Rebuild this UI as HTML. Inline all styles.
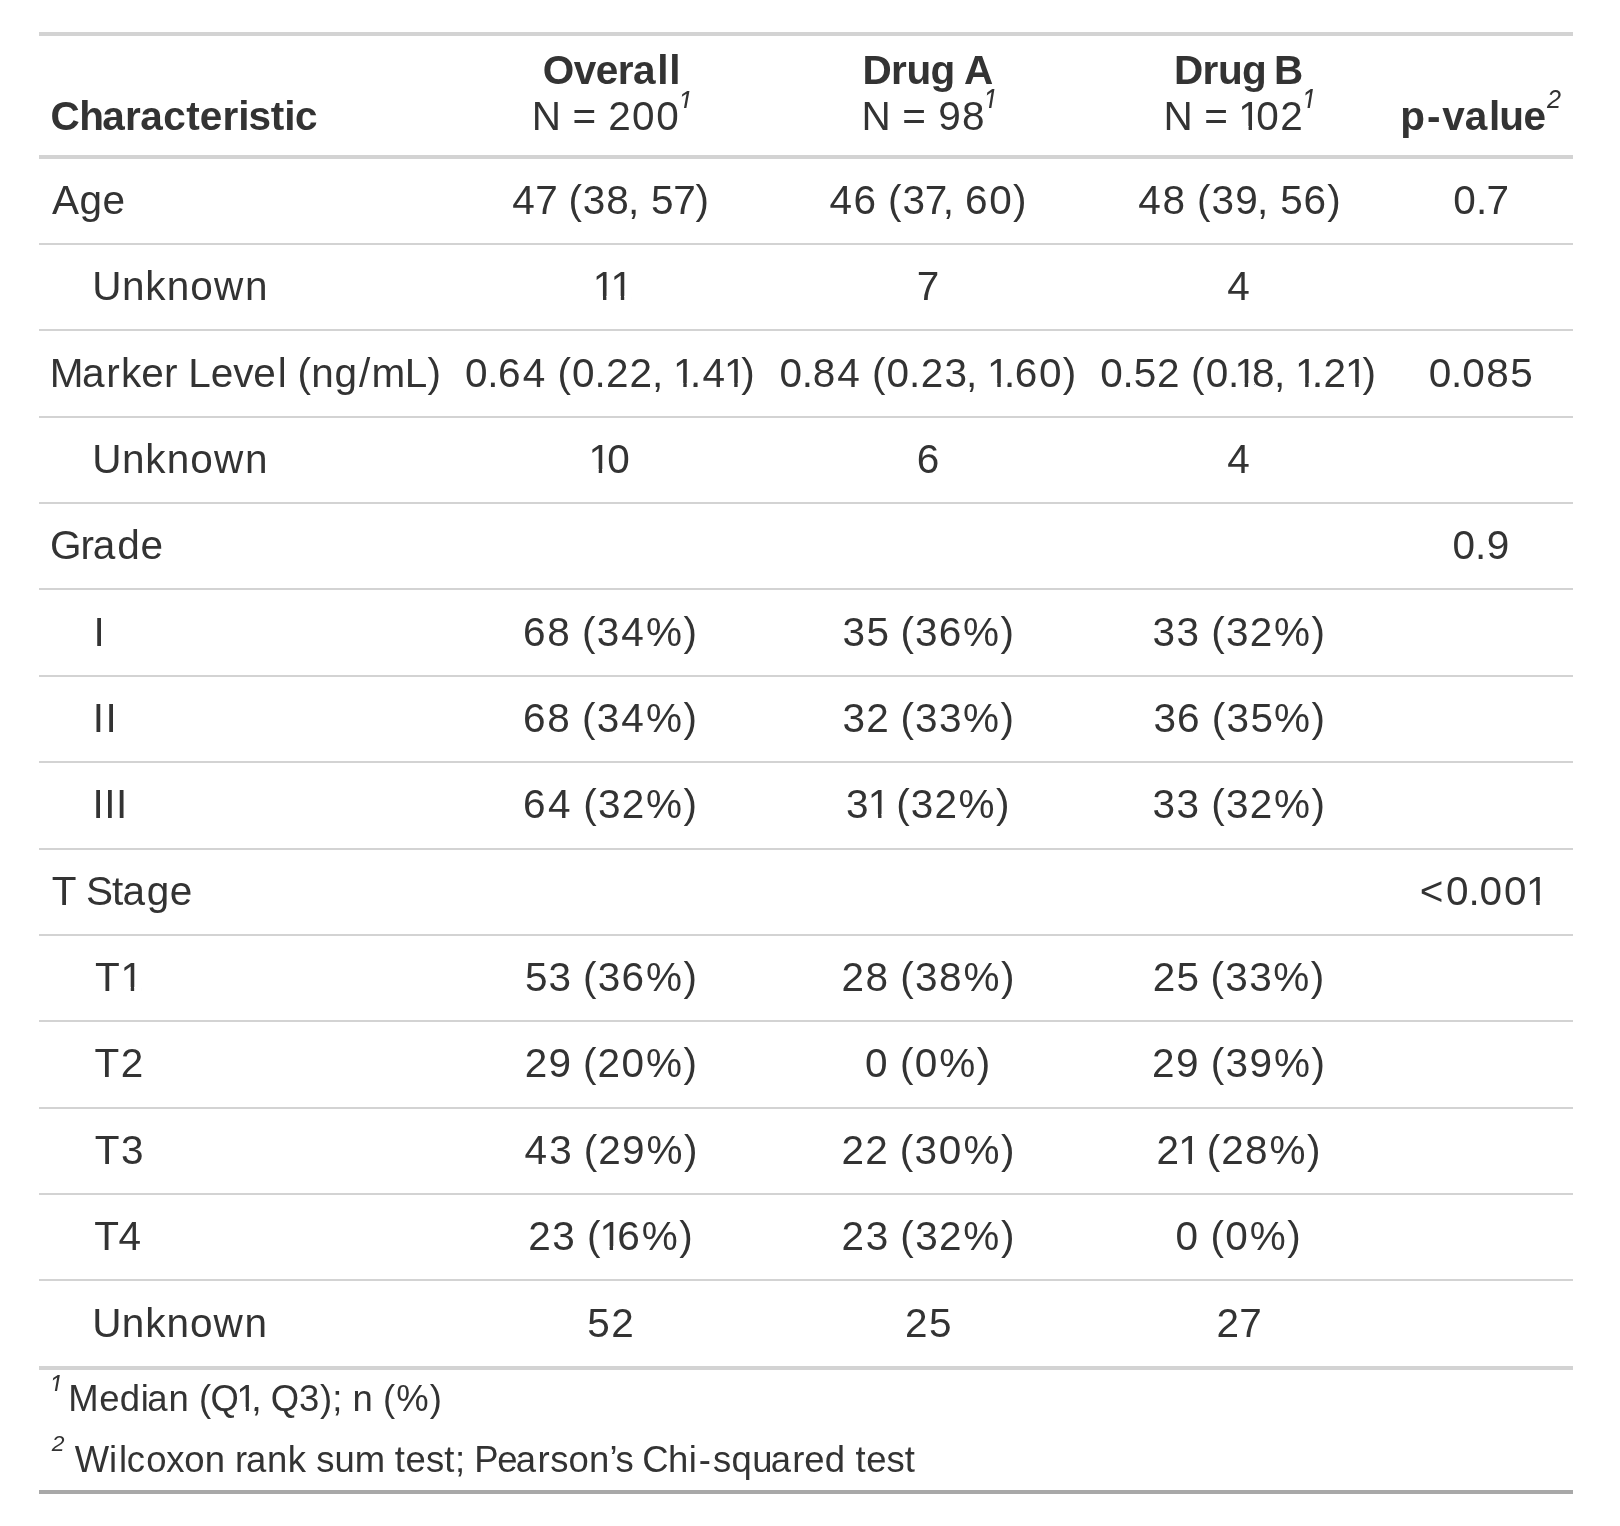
<!DOCTYPE html>
<html lang="en"><head><meta charset="utf-8"><title>Table</title>
<style>
html,body{margin:0;padding:0;background:#fff;}
body{width:1620px;height:1526px;overflow:hidden;}
svg{display:block;will-change:transform;}
text{fill:#333333;font-family:"Liberation Sans",Arial,sans-serif;}
.b{font-weight:bold;}
.i{font-style:italic;}
</style></head><body>
<svg width="1620" height="1526" viewBox="0 0 1620 1526">
<defs><clipPath id="ft0"><rect x="-60" y="-100" width="120" height="97.30"/></clipPath><clipPath id="ft1"><rect x="-60" y="-100" width="120" height="97.30"/></clipPath><clipPath id="ft2"><rect x="-60" y="-100" width="120" height="97.30"/></clipPath><clipPath id="ft4"><rect x="-60" y="-100" width="120" height="97.50"/></clipPath><clipPath id="fc0"><rect x="1103.41" y="49.00" width="298.40" height="77.00"/><rect x="1103.41" y="131.00" width="298.40" height="40.50"/><rect x="1103.41" y="126.00" width="137.19" height="1.00"/><rect x="1248.58" y="126.00" width="3.40" height="1.00"/><rect x="1259.26" y="126.00" width="142.54" height="1.00"/><rect x="1103.41" y="127.00" width="137.19" height="1.00"/><rect x="1248.58" y="127.00" width="3.40" height="1.00"/><rect x="1259.69" y="127.00" width="142.11" height="1.00"/><rect x="1103.41" y="128.00" width="137.19" height="1.00"/><rect x="1248.58" y="128.00" width="3.40" height="1.00"/><rect x="1259.69" y="128.00" width="142.11" height="1.00"/><rect x="1103.41" y="129.00" width="137.19" height="1.00"/><rect x="1248.58" y="129.00" width="3.40" height="1.00"/><rect x="1259.69" y="129.00" width="142.11" height="1.00"/><rect x="1103.41" y="130.00" width="137.19" height="1.00"/><rect x="1248.58" y="130.00" width="3.40" height="1.00"/><rect x="1259.69" y="130.00" width="142.11" height="1.00"/></clipPath><clipPath id="fc1"><rect x="532.71" y="219.00" width="199.34" height="77.00"/><rect x="532.71" y="301.00" width="199.34" height="40.50"/><rect x="532.71" y="296.00" width="62.28" height="1.00"/><rect x="602.98" y="296.00" width="3.40" height="1.00"/><rect x="620.82" y="296.00" width="3.40" height="1.00"/><rect x="631.92" y="296.00" width="100.13" height="1.00"/><rect x="532.71" y="297.00" width="62.28" height="1.00"/><rect x="602.98" y="297.00" width="3.40" height="1.00"/><rect x="620.82" y="297.00" width="3.40" height="1.00"/><rect x="631.92" y="297.00" width="100.13" height="1.00"/><rect x="532.71" y="298.00" width="62.28" height="1.00"/><rect x="602.98" y="298.00" width="3.40" height="1.00"/><rect x="620.82" y="298.00" width="3.40" height="1.00"/><rect x="631.92" y="298.00" width="100.13" height="1.00"/><rect x="532.71" y="299.00" width="62.28" height="1.00"/><rect x="602.98" y="299.00" width="3.40" height="1.00"/><rect x="620.82" y="299.00" width="3.40" height="1.00"/><rect x="631.92" y="299.00" width="100.13" height="1.00"/><rect x="532.71" y="300.00" width="62.28" height="1.00"/><rect x="602.98" y="300.00" width="3.40" height="1.00"/><rect x="620.82" y="300.00" width="3.40" height="1.00"/><rect x="631.92" y="300.00" width="100.13" height="1.00"/></clipPath><clipPath id="fc2"><rect x="404.94" y="306.00" width="457.86" height="77.00"/><rect x="404.94" y="388.00" width="457.86" height="40.50"/><rect x="404.94" y="383.00" width="270.39" height="1.00"/><rect x="683.32" y="383.00" width="3.40" height="1.00"/><rect x="693.31" y="383.00" width="32.92" height="1.00"/><rect x="734.22" y="383.00" width="3.40" height="1.00"/><rect x="745.33" y="383.00" width="117.47" height="1.00"/><rect x="404.94" y="384.00" width="270.39" height="1.00"/><rect x="683.32" y="384.00" width="3.40" height="1.00"/><rect x="693.31" y="384.00" width="32.92" height="1.00"/><rect x="734.22" y="384.00" width="3.40" height="1.00"/><rect x="745.33" y="384.00" width="117.47" height="1.00"/><rect x="404.94" y="385.00" width="270.39" height="1.00"/><rect x="683.32" y="385.00" width="3.40" height="1.00"/><rect x="693.31" y="385.00" width="32.92" height="1.00"/><rect x="734.22" y="385.00" width="3.40" height="1.00"/><rect x="745.33" y="385.00" width="117.47" height="1.00"/><rect x="404.94" y="386.00" width="270.39" height="1.00"/><rect x="683.32" y="386.00" width="3.40" height="1.00"/><rect x="693.31" y="386.00" width="32.92" height="1.00"/><rect x="734.22" y="386.00" width="3.40" height="1.00"/><rect x="745.33" y="386.00" width="117.47" height="1.00"/><rect x="404.94" y="387.00" width="270.39" height="1.00"/><rect x="683.32" y="387.00" width="3.40" height="1.00"/><rect x="693.31" y="387.00" width="32.92" height="1.00"/><rect x="734.22" y="387.00" width="3.40" height="1.00"/><rect x="745.33" y="387.00" width="117.47" height="1.00"/></clipPath><clipPath id="fc3"><rect x="719.44" y="306.00" width="464.76" height="77.00"/><rect x="719.44" y="388.00" width="464.76" height="40.50"/><rect x="719.44" y="383.00" width="269.89" height="1.00"/><rect x="997.32" y="383.00" width="3.40" height="1.00"/><rect x="1007.30" y="383.00" width="176.90" height="1.00"/><rect x="719.44" y="384.00" width="269.89" height="1.00"/><rect x="997.32" y="384.00" width="3.40" height="1.00"/><rect x="1007.30" y="384.00" width="176.90" height="1.00"/><rect x="719.44" y="385.00" width="269.89" height="1.00"/><rect x="997.32" y="385.00" width="3.40" height="1.00"/><rect x="1007.30" y="385.00" width="176.90" height="1.00"/><rect x="719.44" y="386.00" width="269.89" height="1.00"/><rect x="997.32" y="386.00" width="3.40" height="1.00"/><rect x="1007.30" y="386.00" width="176.90" height="1.00"/><rect x="719.44" y="387.00" width="269.89" height="1.00"/><rect x="997.32" y="387.00" width="3.40" height="1.00"/><rect x="1007.30" y="387.00" width="176.90" height="1.00"/></clipPath><clipPath id="fc4"><rect x="1040.13" y="306.00" width="443.78" height="77.00"/><rect x="1040.13" y="388.00" width="443.78" height="40.50"/><rect x="1040.13" y="383.00" width="196.55" height="1.00"/><rect x="1244.67" y="383.00" width="3.40" height="1.00"/><rect x="1254.00" y="383.00" width="43.16" height="1.00"/><rect x="1305.15" y="383.00" width="3.40" height="1.00"/><rect x="1315.13" y="383.00" width="32.23" height="1.00"/><rect x="1355.35" y="383.00" width="3.40" height="1.00"/><rect x="1366.45" y="383.00" width="117.46" height="1.00"/><rect x="1040.13" y="384.00" width="196.55" height="1.00"/><rect x="1244.67" y="384.00" width="3.40" height="1.00"/><rect x="1254.61" y="384.00" width="42.56" height="1.00"/><rect x="1305.15" y="384.00" width="3.40" height="1.00"/><rect x="1315.13" y="384.00" width="32.23" height="1.00"/><rect x="1355.35" y="384.00" width="3.40" height="1.00"/><rect x="1366.45" y="384.00" width="117.46" height="1.00"/><rect x="1040.13" y="385.00" width="196.55" height="1.00"/><rect x="1244.67" y="385.00" width="3.40" height="1.00"/><rect x="1255.42" y="385.00" width="41.75" height="1.00"/><rect x="1305.15" y="385.00" width="3.40" height="1.00"/><rect x="1315.13" y="385.00" width="32.23" height="1.00"/><rect x="1355.35" y="385.00" width="3.40" height="1.00"/><rect x="1366.45" y="385.00" width="117.46" height="1.00"/><rect x="1040.13" y="386.00" width="196.55" height="1.00"/><rect x="1244.67" y="386.00" width="3.40" height="1.00"/><rect x="1255.78" y="386.00" width="41.39" height="1.00"/><rect x="1305.15" y="386.00" width="3.40" height="1.00"/><rect x="1315.13" y="386.00" width="32.23" height="1.00"/><rect x="1355.35" y="386.00" width="3.40" height="1.00"/><rect x="1366.45" y="386.00" width="117.46" height="1.00"/><rect x="1040.13" y="387.00" width="196.55" height="1.00"/><rect x="1244.67" y="387.00" width="3.40" height="1.00"/><rect x="1255.78" y="387.00" width="41.39" height="1.00"/><rect x="1305.15" y="387.00" width="3.40" height="1.00"/><rect x="1315.13" y="387.00" width="32.23" height="1.00"/><rect x="1355.35" y="387.00" width="3.40" height="1.00"/><rect x="1366.45" y="387.00" width="117.46" height="1.00"/></clipPath><clipPath id="fc5"><rect x="528.48" y="392.00" width="200.21" height="77.00"/><rect x="528.48" y="474.00" width="200.21" height="40.50"/><rect x="528.48" y="469.00" width="62.28" height="1.00"/><rect x="598.74" y="469.00" width="3.40" height="1.00"/><rect x="609.85" y="469.00" width="118.84" height="1.00"/><rect x="528.48" y="470.00" width="62.28" height="1.00"/><rect x="598.74" y="470.00" width="3.40" height="1.00"/><rect x="609.85" y="470.00" width="118.84" height="1.00"/><rect x="528.48" y="471.00" width="62.28" height="1.00"/><rect x="598.74" y="471.00" width="3.40" height="1.00"/><rect x="609.85" y="471.00" width="118.84" height="1.00"/><rect x="528.48" y="472.00" width="62.28" height="1.00"/><rect x="598.74" y="472.00" width="3.40" height="1.00"/><rect x="609.85" y="472.00" width="118.84" height="1.00"/><rect x="528.48" y="473.00" width="62.28" height="1.00"/><rect x="598.74" y="473.00" width="3.40" height="1.00"/><rect x="609.85" y="473.00" width="118.84" height="1.00"/></clipPath><clipPath id="fc6"><rect x="786.09" y="737.00" width="331.36" height="77.00"/><rect x="786.09" y="819.00" width="331.36" height="40.50"/><rect x="786.09" y="814.00" width="83.99" height="1.00"/><rect x="878.08" y="814.00" width="3.40" height="1.00"/><rect x="889.18" y="814.00" width="228.27" height="1.00"/><rect x="786.09" y="815.00" width="83.99" height="1.00"/><rect x="878.08" y="815.00" width="3.40" height="1.00"/><rect x="889.18" y="815.00" width="228.27" height="1.00"/><rect x="786.09" y="816.00" width="83.99" height="1.00"/><rect x="878.08" y="816.00" width="3.40" height="1.00"/><rect x="889.18" y="816.00" width="228.27" height="1.00"/><rect x="786.09" y="817.00" width="83.99" height="1.00"/><rect x="878.08" y="817.00" width="3.40" height="1.00"/><rect x="889.18" y="817.00" width="228.27" height="1.00"/><rect x="786.09" y="818.00" width="83.99" height="1.00"/><rect x="878.08" y="818.00" width="3.40" height="1.00"/><rect x="889.18" y="818.00" width="228.27" height="1.00"/></clipPath><clipPath id="fc7"><rect x="1359.81" y="824.00" width="287.70" height="77.00"/><rect x="1359.81" y="906.00" width="287.70" height="40.50"/><rect x="1359.81" y="901.00" width="168.48" height="1.00"/><rect x="1536.28" y="901.00" width="3.40" height="1.00"/><rect x="1547.38" y="901.00" width="100.13" height="1.00"/><rect x="1359.81" y="902.00" width="168.48" height="1.00"/><rect x="1536.28" y="902.00" width="3.40" height="1.00"/><rect x="1547.38" y="902.00" width="100.13" height="1.00"/><rect x="1359.81" y="903.00" width="168.48" height="1.00"/><rect x="1536.28" y="903.00" width="3.40" height="1.00"/><rect x="1547.38" y="903.00" width="100.13" height="1.00"/><rect x="1359.81" y="904.00" width="168.48" height="1.00"/><rect x="1536.28" y="904.00" width="3.40" height="1.00"/><rect x="1547.38" y="904.00" width="100.13" height="1.00"/><rect x="1359.81" y="905.00" width="168.48" height="1.00"/><rect x="1536.28" y="905.00" width="3.40" height="1.00"/><rect x="1547.38" y="905.00" width="100.13" height="1.00"/></clipPath><clipPath id="fc8"><rect x="34.94" y="910.00" width="207.05" height="77.00"/><rect x="34.94" y="992.00" width="207.05" height="40.50"/><rect x="34.94" y="987.00" width="87.83" height="1.00"/><rect x="130.76" y="987.00" width="3.40" height="1.00"/><rect x="141.87" y="987.00" width="100.13" height="1.00"/><rect x="34.94" y="988.00" width="87.83" height="1.00"/><rect x="130.76" y="988.00" width="3.40" height="1.00"/><rect x="141.87" y="988.00" width="100.13" height="1.00"/><rect x="34.94" y="989.00" width="87.83" height="1.00"/><rect x="130.76" y="989.00" width="3.40" height="1.00"/><rect x="141.87" y="989.00" width="100.13" height="1.00"/><rect x="34.94" y="990.00" width="87.83" height="1.00"/><rect x="130.76" y="990.00" width="3.40" height="1.00"/><rect x="141.87" y="990.00" width="100.13" height="1.00"/><rect x="34.94" y="991.00" width="87.83" height="1.00"/><rect x="130.76" y="991.00" width="3.40" height="1.00"/><rect x="141.87" y="991.00" width="100.13" height="1.00"/></clipPath><clipPath id="fc9"><rect x="1096.46" y="1083.00" width="332.02" height="77.00"/><rect x="1096.46" y="1165.00" width="332.02" height="40.50"/><rect x="1096.46" y="1160.00" width="84.05" height="1.00"/><rect x="1188.49" y="1160.00" width="3.40" height="1.00"/><rect x="1199.60" y="1160.00" width="228.88" height="1.00"/><rect x="1096.46" y="1161.00" width="84.05" height="1.00"/><rect x="1188.49" y="1161.00" width="3.40" height="1.00"/><rect x="1199.60" y="1161.00" width="228.88" height="1.00"/><rect x="1096.46" y="1162.00" width="84.05" height="1.00"/><rect x="1188.49" y="1162.00" width="3.40" height="1.00"/><rect x="1199.60" y="1162.00" width="228.88" height="1.00"/><rect x="1096.46" y="1163.00" width="84.05" height="1.00"/><rect x="1188.49" y="1163.00" width="3.40" height="1.00"/><rect x="1199.60" y="1163.00" width="228.88" height="1.00"/><rect x="1096.46" y="1164.00" width="84.05" height="1.00"/><rect x="1188.49" y="1164.00" width="3.40" height="1.00"/><rect x="1199.60" y="1164.00" width="228.88" height="1.00"/></clipPath><clipPath id="fc10"><rect x="468.36" y="1169.00" width="332.42" height="77.00"/><rect x="468.36" y="1251.00" width="332.42" height="40.50"/><rect x="468.36" y="1246.00" width="133.30" height="1.00"/><rect x="609.64" y="1246.00" width="3.40" height="1.00"/><rect x="620.66" y="1246.00" width="180.12" height="1.00"/><rect x="468.36" y="1247.00" width="133.30" height="1.00"/><rect x="609.64" y="1247.00" width="3.40" height="1.00"/><rect x="620.75" y="1247.00" width="180.03" height="1.00"/><rect x="468.36" y="1248.00" width="133.30" height="1.00"/><rect x="609.64" y="1248.00" width="3.40" height="1.00"/><rect x="620.75" y="1248.00" width="180.03" height="1.00"/><rect x="468.36" y="1249.00" width="133.30" height="1.00"/><rect x="609.64" y="1249.00" width="3.40" height="1.00"/><rect x="620.75" y="1249.00" width="180.03" height="1.00"/><rect x="468.36" y="1250.00" width="133.30" height="1.00"/><rect x="609.64" y="1250.00" width="3.40" height="1.00"/><rect x="620.75" y="1250.00" width="180.03" height="1.00"/></clipPath><clipPath id="fc11"><rect x="8.31" y="1338.10" width="530.78" height="68.90"/><rect x="8.31" y="1412.00" width="530.78" height="36.45"/><rect x="8.31" y="1407.00" width="230.26" height="1.00"/><rect x="245.85" y="1407.00" width="3.04" height="1.00"/><rect x="254.54" y="1407.00" width="284.55" height="1.00"/><rect x="8.31" y="1408.00" width="230.26" height="1.00"/><rect x="245.85" y="1408.00" width="3.04" height="1.00"/><rect x="254.54" y="1408.00" width="284.55" height="1.00"/><rect x="8.31" y="1409.00" width="230.26" height="1.00"/><rect x="245.85" y="1409.00" width="3.04" height="1.00"/><rect x="254.54" y="1409.00" width="284.55" height="1.00"/><rect x="8.31" y="1410.00" width="230.26" height="1.00"/><rect x="245.85" y="1410.00" width="3.04" height="1.00"/><rect x="254.54" y="1410.00" width="284.55" height="1.00"/><rect x="8.31" y="1411.00" width="230.26" height="1.00"/><rect x="245.85" y="1411.00" width="3.04" height="1.00"/><rect x="254.54" y="1411.00" width="284.55" height="1.00"/></clipPath></defs>
<rect x="0" y="0" width="1620" height="1526" fill="#ffffff"/>
<rect x="39" y="32" width="1534" height="4" fill="#D3D3D3"/>
<rect x="39" y="155" width="1534" height="4" fill="#D3D3D3"/>
<rect x="39" y="243" width="1534" height="2" fill="#D3D3D3"/>
<rect x="39" y="329" width="1534" height="2" fill="#D3D3D3"/>
<rect x="39" y="416" width="1534" height="2" fill="#D3D3D3"/>
<rect x="39" y="502" width="1534" height="2" fill="#D3D3D3"/>
<rect x="39" y="588" width="1534" height="2" fill="#D3D3D3"/>
<rect x="39" y="675" width="1534" height="2" fill="#D3D3D3"/>
<rect x="39" y="761" width="1534" height="2" fill="#D3D3D3"/>
<rect x="39" y="848" width="1534" height="2" fill="#D3D3D3"/>
<rect x="39" y="934" width="1534" height="2" fill="#D3D3D3"/>
<rect x="39" y="1020" width="1534" height="2" fill="#D3D3D3"/>
<rect x="39" y="1107" width="1534" height="2" fill="#D3D3D3"/>
<rect x="39" y="1193" width="1534" height="2" fill="#D3D3D3"/>
<rect x="39" y="1279" width="1534" height="2" fill="#D3D3D3"/>
<rect x="39" y="1366" width="1534" height="4" fill="#D3D3D3"/>
<rect x="39" y="1490" width="1534" height="4" fill="#A8A8A8"/>
<text class="b" x="50.61 79.17 102.27 125.08 140.36 163.28 186.14 199.85 222.40 238.22 248.60 270.64 284.26 294.91" y="130" font-size="40.5">Characteristic</text>
<text class="b" x="542.78 573.75 595.82 617.67 632.94 657.34 669.20" y="84.0" font-size="40.5">Overall</text>
<text class="r" x="531.72 555.16 572.51 591.36 608.30 632.06 656.29" y="130.0" font-size="40.5">N = 200</text>
<text class="b" x="862.54 890.95 906.58 930.58 949.41 963.88" y="84.0" font-size="40.5">Drug A</text>
<text class="r" x="861.39 884.86 902.25 921.13 938.26 962.01" y="130.0" font-size="40.5">N = 98</text>
<text class="b" x="1173.99 1202.43 1218.08 1242.11 1260.95 1273.93" y="84.0" font-size="40.5">Drug B</text>
<text class="r" x="1163.41 1186.90 1204.35 1223.26 1238.32 1256.32 1280.30" y="130.0" font-size="40.5" clip-path="url(#fc0)">N = 102</text>
<text class="b" x="1400.16 1426.90 1442.21 1464.67 1489.05 1499.24 1523.55" y="130" font-size="40.5">p-value</text>
<text class="r" x="52.07 79.41 102.58" y="214" font-size="40.5">Age</text>
<text class="r" x="512.22 535.27 551.74 568.42 582.83 606.28 628.07 633.98 651.10 673.22 695.53" y="214" font-size="40.5">47 (38, 57)</text>
<text class="r" x="829.47 853.58 871.29 888.09 902.61 924.63 942.74 948.07 965.08 989.32 1012.99" y="214" font-size="40.5">46 (37, 60)</text>
<text class="r" x="1138.19 1162.43 1180.07 1196.93 1211.51 1235.28 1257.07 1263.03 1280.36 1303.61 1327.26" y="214" font-size="40.5">48 (39, 56)</text>
<text class="r" x="1453.33 1475.90 1486.40" y="214" font-size="40.5">0.7</text>
<text class="r" x="92.36 121.91 145.32 166.70 190.17 213.92 244.95" y="300" font-size="40.5">Unknown</text>
<text class="r" x="592.71 610.55" y="300" font-size="40.5" clip-path="url(#fc1)">11</text>
<text class="r" x="916.66" y="300" font-size="40.5">7</text>
<text class="r" x="1227.36" y="300" font-size="40.5">4</text>
<text class="r" x="49.85 82.09 106.25 121.08 141.14 164.11 172.45 188.37 210.74 233.13 253.35 277.83 280.77 297.58 311.37 334.60 359.01 371.58 404.79 427.38" y="387" font-size="40.5">Marker Level (ng/mL)</text>
<text class="r" x="464.94 487.29 498.04 522.71 540.63 557.43 572.04 594.39 606.12 629.61 652.08 658.02 673.06 690.07 702.58 723.96 741.30" y="387" font-size="40.5" clip-path="url(#fc2)">0.64 (0.22, 1.41)</text>
<text class="r" x="779.44 801.79 812.71 837.27 855.19 871.99 886.60 908.94 920.68 944.42 966.07 972.01 987.05 1004.06 1014.81 1039.04 1062.70" y="387" font-size="40.5" clip-path="url(#fc3)">0.84 (0.23, 1.60)</text>
<text class="r" x="1100.13 1122.46 1133.87 1157.01 1174.31 1191.08 1205.67 1227.99 1234.40 1252.07 1273.94 1279.88 1294.89 1311.88 1323.59 1345.08 1362.41" y="387" font-size="40.5" clip-path="url(#fc4)">0.52 (0.18, 1.21)</text>
<text class="r" x="1428.74 1451.08 1462.17 1486.17 1510.18" y="387" font-size="40.5">0.085</text>
<text class="r" x="92.36 121.91 145.32 166.70 190.17 213.92 244.95" y="473" font-size="40.5">Unknown</text>
<text class="r" x="588.48 607.19" y="473" font-size="40.5" clip-path="url(#fc5)">10</text>
<text class="r" x="916.81" y="473" font-size="40.5">6</text>
<text class="r" x="1227.36" y="473" font-size="40.5">4</text>
<text class="r" x="50.11 80.53 92.87 117.17 140.51" y="559" font-size="40.5">Grade</text>
<text class="r" x="1452.59 1475.03 1486.74" y="559" font-size="40.5">0.9</text>
<text class="r" x="93.38" y="646" font-size="40.5">I</text>
<text class="r" x="523.09 547.27 564.99 581.98 596.68 621.25 645.97 683.45" y="646" font-size="40.5">68 (34%)</text>
<text class="r" x="842.49 866.42 883.48 900.40 915.02 938.70 963.08 1000.45" y="646" font-size="40.5">35 (36%)</text>
<text class="r" x="1152.53 1176.62 1194.12 1211.15 1225.89 1249.72 1273.88 1311.41" y="646" font-size="40.5">33 (32%)</text>
<text class="r" x="92.64 105.42" y="732" font-size="40.5">II</text>
<text class="r" x="523.09 547.27 564.99 581.98 596.68 621.25 645.97 683.45" y="732" font-size="40.5">68 (34%)</text>
<text class="r" x="842.49 866.18 883.56 900.48 915.10 939.04 963.07 1000.45" y="732" font-size="40.5">32 (33%)</text>
<text class="r" x="1153.39 1177.09 1194.88 1211.81 1226.44 1250.39 1274.06 1311.45" y="732" font-size="40.5">36 (35%)</text>
<text class="r" x="92.46 104.23 116.00" y="818" font-size="40.5">III</text>
<text class="r" x="523.10 548.07 566.15 583.18 597.91 621.74 645.91 683.44" y="818" font-size="40.5">64 (32%)</text>
<text class="r" x="846.09 867.81 879.31 896.23 910.87 934.57 958.56 995.95" y="818" font-size="40.5" clip-path="url(#fc6)">31 (32%)</text>
<text class="r" x="1152.53 1176.62 1194.12 1211.15 1225.89 1249.72 1273.88 1311.41" y="818" font-size="40.5">33 (32%)</text>
<text class="r" x="51.63 70.73 85.96 112.08 122.61 146.72 169.80" y="905" font-size="40.5">T Stage</text>
<text class="r" x="1419.81 1445.99 1468.40 1479.56 1503.94 1526.01" y="905" font-size="40.5" clip-path="url(#fc7)">&lt;0.001</text>
<text class="r" x="94.94 120.49" y="991" font-size="40.5" clip-path="url(#fc8)">T1</text>
<text class="r" x="524.97 548.62 566.09 583.07 597.76 621.53 646.01 683.47" y="991" font-size="40.5">53 (36%)</text>
<text class="r" x="841.57 865.43 883.19 900.24 915.00 938.91 963.41 1000.97" y="991" font-size="40.5">28 (38%)</text>
<text class="r" x="1152.64 1176.57 1193.66 1210.61 1225.28 1249.27 1273.37 1310.80" y="991" font-size="40.5">25 (33%)</text>
<text class="r" x="94.58 120.86" y="1077" font-size="40.5">T2</text>
<text class="r" x="524.63 548.46 566.11 583.06 597.46 621.48 645.98 683.40" y="1077" font-size="40.5">29 (20%)</text>
<text class="r" x="865.11 883.01 900.00 914.79 939.36 976.83" y="1077" font-size="40.5">0 (0%)</text>
<text class="r" x="1152.07 1176.01 1193.72 1210.76 1225.50 1249.50 1273.93 1311.47" y="1077" font-size="40.5">29 (39%)</text>
<text class="r" x="94.66 120.97" y="1164" font-size="40.5">T3</text>
<text class="r" x="524.54 549.17 566.66 583.67 598.13 622.03 646.41 683.91" y="1164" font-size="40.5">43 (29%)</text>
<text class="r" x="841.57 865.36 882.81 899.85 914.59 938.78 963.43 1000.97" y="1164" font-size="40.5">22 (30%)</text>
<text class="r" x="1156.46 1178.22 1189.75 1206.76 1221.23 1245.04 1269.47 1306.98" y="1164" font-size="40.5" clip-path="url(#fc9)">21 (28%)</text>
<text class="r" x="94.37 118.56" y="1250" font-size="40.5">T4</text>
<text class="r" x="528.36 552.37 569.88 586.90 599.38 617.22 641.76 679.28" y="1250" font-size="40.5" clip-path="url(#fc10)">23 (16%)</text>
<text class="r" x="841.59 865.70 883.25 900.35 915.14 939.06 963.33 1000.95" y="1250" font-size="40.5">23 (32%)</text>
<text class="r" x="1175.61 1193.51 1210.50 1225.29 1249.86 1287.33" y="1250" font-size="40.5">0 (0%)</text>
<text class="r" x="92.34 121.82 145.18 166.51 189.93 213.61 244.58" y="1337" font-size="40.5">Unknown</text>
<text class="r" x="587.29 611.24" y="1337" font-size="40.5">52</text>
<text class="r" x="905.07 929.04" y="1337" font-size="40.5">25</text>
<text class="r" x="1216.60 1239.32" y="1337" font-size="40.5">27</text>
<text class="r" x="68.31 99.15 119.83 140.82 147.19 168.53 183.88 199.01 210.50 236.60 251.56 256.91 270.87 298.98 319.91 332.21 337.73 352.62 367.98 383.11 396.22 429.74" y="1411" font-size="36.45" clip-path="url(#fc11)">Median (Q1, Q3); n (%)</text>
<text class="r" x="74.65 109.10 119.05 126.68 146.18 166.15 184.16 204.63 219.94 234.90 246.12 267.09 287.64 301.34 316.32 334.43 354.65 379.89 394.85 405.59 425.94 444.14 455.09 460.58 474.28 497.18 515.82 537.48 550.23 568.47 588.95 609.42 615.54 628.14 642.20 668.09 688.74 698.76 712.96 731.40 752.21 770.67 792.32 804.27 824.84 840.48 855.44 866.18 886.53 904.73" y="1472" font-size="36.45">Wilcoxon rank sum test; Pearson’s Chi-squared test</text>
<text class="i" font-size="27.0" transform="matrix(1 0 0 1.1149 677.89 110.91)" clip-path="url(#ft0)">1</text>
<text class="i" font-size="27.0" transform="matrix(1 0 0 1.1275 983.04 111.04)" clip-path="url(#ft1)">1</text>
<text class="i" font-size="27.0" transform="matrix(1 0 0 1.1338 1301.44 111.06)" clip-path="url(#ft2)">1</text>
<text class="i" x="1546.91" y="107.90" font-size="25.21">2</text>
<text class="i" font-size="25.0" transform="matrix(1 0 0 1.0884 49.35 1393.72)" clip-path="url(#ft4)">1</text>
<text class="i" x="51.87" y="1451.00" font-size="22.92">2</text>
</svg>
</body></html>
